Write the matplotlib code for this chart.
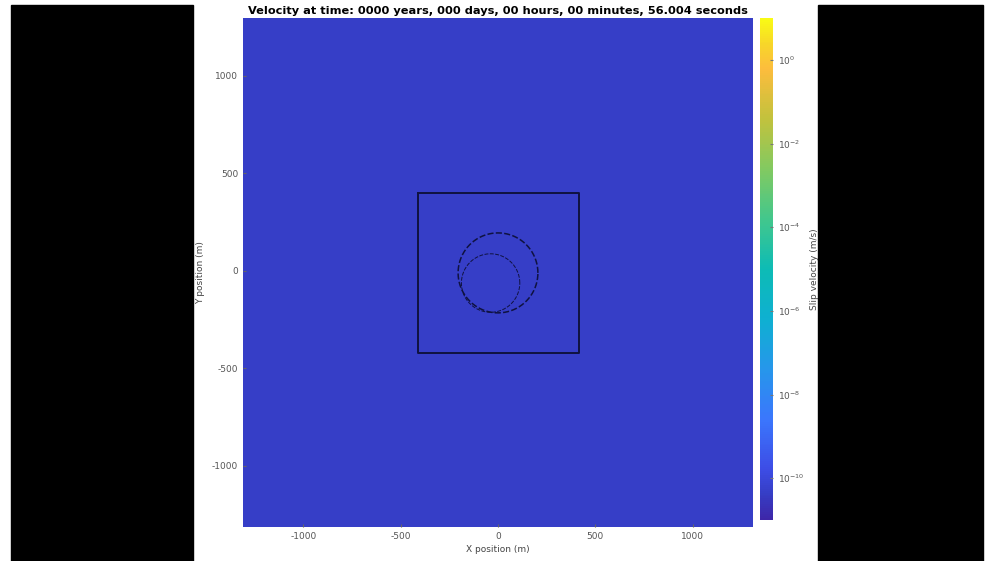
import numpy as np
import matplotlib
matplotlib.use("Agg")
import matplotlib.pyplot as plt
from matplotlib.colors import LinearSegmentedColormap, LogNorm
from matplotlib.patches import Rectangle

# ---- data ----
title_text = "Velocity at time: 0000 years, 000 days, 00 hours, 00 minutes, 56.004 seconds"
x_extent = [-1310, 1310]
y_extent = [-1315, 1295]
slip_velocity = 5e-11          # uniform background slip velocity (m/s)
vmin, vmax = 1e-11, 1e1
square_x = [-410, 415, 415, -410, -410]
square_y = [400, 400, -425, -425, 400]
outer_circle = (0, -12, 205)   # cx, cy, r
inner_circle = (-38, -64, 150)
x_ticks = [-1000, -500, 0, 500, 1000]
y_ticks = [-1000, -500, 0, 500, 1000]
cbar_ticks = [1e-10, 1e-8, 1e-6, 1e-4, 1e-2, 1e0]

# parula-like colormap
parula_pts = [
    (0.00, (0.2422, 0.1504, 0.6603)),
    (0.05, (0.2100, 0.2400, 0.7700)),
    (0.10, (0.2400, 0.3000, 0.9000)),
    (0.20, (0.2300, 0.4650, 0.9900)),
    (0.30, (0.1500, 0.5900, 0.9200)),
    (0.40, (0.0570, 0.6890, 0.8200)),
    (0.50, (0.0500, 0.7350, 0.7100)),
    (0.60, (0.2600, 0.7800, 0.5500)),
    (0.70, (0.5100, 0.7900, 0.3800)),
    (0.80, (0.7600, 0.7600, 0.2400)),
    (0.90, (0.9900, 0.7400, 0.2400)),
    (0.95, (0.9700, 0.8400, 0.1600)),
    (1.00, (0.9769, 0.9839, 0.0805)),
]
parula = LinearSegmentedColormap.from_list("parula", parula_pts, N=256)

W, H = 994, 561
fig = plt.figure(figsize=(W / 100, H / 100), dpi=100, facecolor="white")

# black side panels
fig.patches.append(Rectangle((11 / W, 0), (193 - 11) / W, (H - 5) / H,
                             transform=fig.transFigure, color="black", zorder=0))
fig.patches.append(Rectangle((818 / W, 0), (983 - 818) / W, (H - 5) / H,
                             transform=fig.transFigure, color="black", zorder=0))

ax = fig.add_axes([243 / W, (H - 527) / H, 510 / W, 509 / H])
field = np.full((4, 4), slip_velocity)
im = ax.imshow(field, cmap=parula, norm=LogNorm(vmin=vmin, vmax=vmax),
               extent=[x_extent[0], x_extent[1], y_extent[0], y_extent[1]],
               origin="lower", aspect="auto", interpolation="nearest")
ax.set_xlim(x_extent)
ax.set_ylim(y_extent)

ax.plot(square_x, square_y, color="#0f1240", lw=1.4)
t = np.linspace(0, 2 * np.pi, 400)
for cx, cy, r in (outer_circle, inner_circle):
    lw = 1.1 if r == outer_circle[2] else 0.7
    ax.plot(cx + r * np.cos(t), cy + r * np.sin(t), color="#0f1240",
            lw=lw, ls=(0, (4, 1.5)))

ax.set_xticks(x_ticks)
ax.set_yticks(y_ticks)
ax.set_xticklabels([str(v) for v in x_ticks])
ax.set_yticklabels([str(v) for v in y_ticks])
ax.tick_params(labelsize=6.5, colors="#666666", length=2, direction="in",
               labelcolor="#555555")
for s in ax.spines.values():
    s.set_visible(False)
ax.set_xlabel("X position (m)", fontsize=6.5, color="#444444", labelpad=3)
ax.set_ylabel("Y position (m)", fontsize=6.5, color="#444444", labelpad=5)
ax.set_title(title_text, fontsize=8.2, fontweight="bold", color="black", pad=3)

cax = fig.add_axes([760 / W, (H - 520) / H, 13 / W, 502 / H])
cb = fig.colorbar(im, cax=cax, ticks=cbar_ticks)
cb.outline.set_visible(False)
cb.ax.tick_params(labelsize=6.5, labelcolor="#555555", colors="#777777",
                  length=2, direction="in")
cb.ax.minorticks_off()
cb.set_label("Slip velocity (m/s)", fontsize=6.5, color="#444444", labelpad=4)

fig.savefig("out.png", dpi=100, facecolor="white")
